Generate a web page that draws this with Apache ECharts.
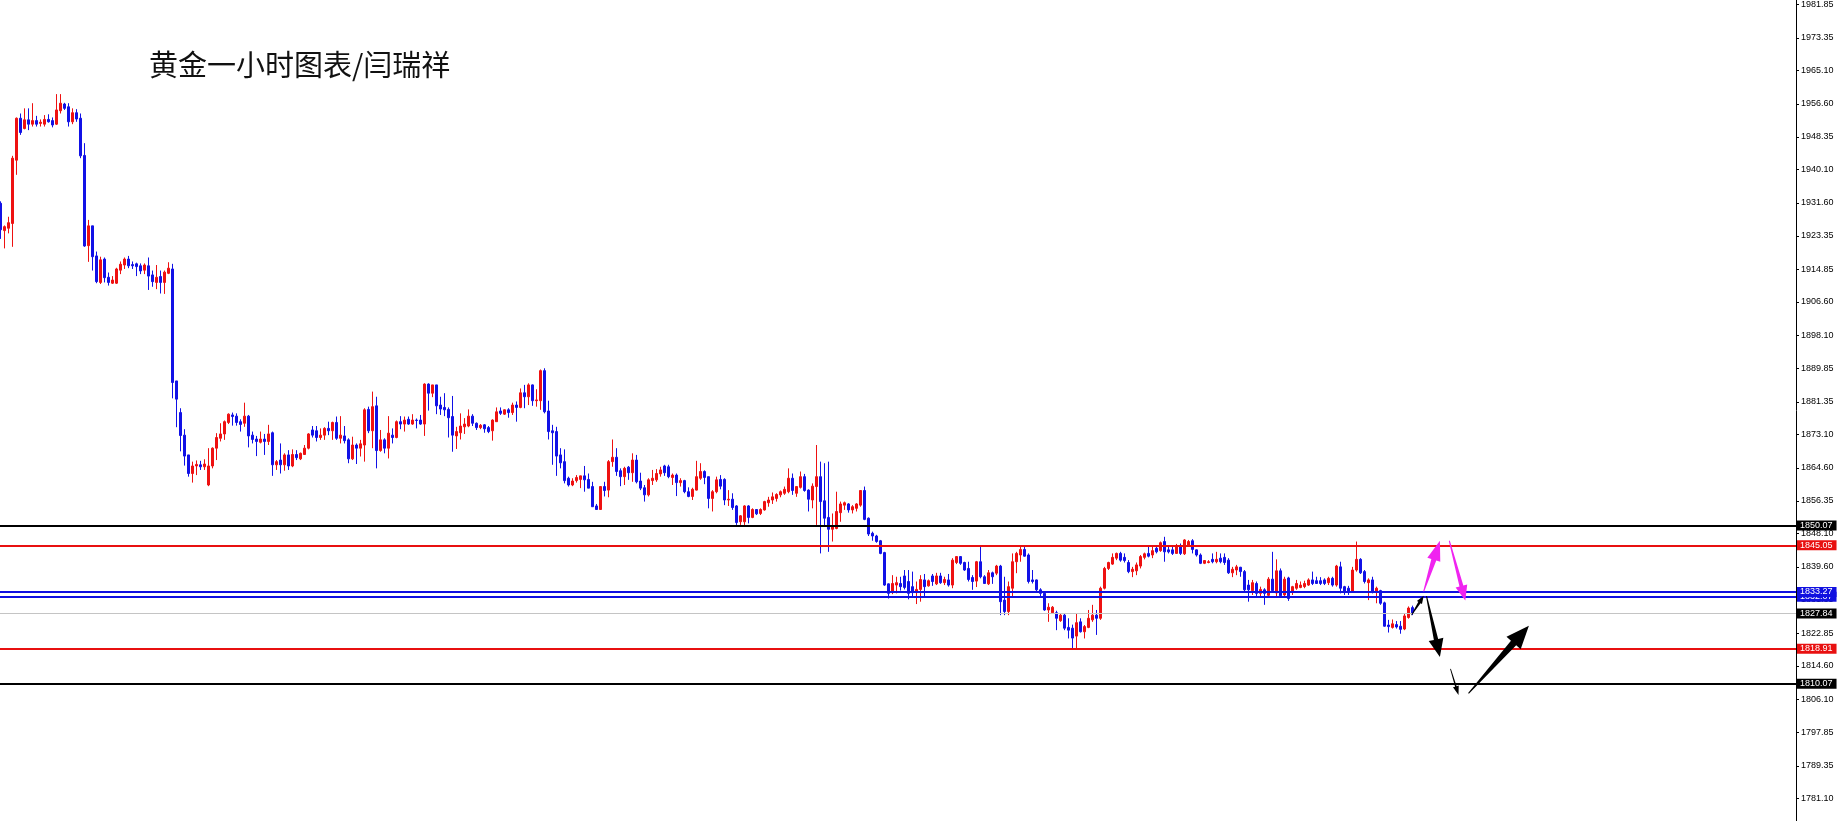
<!DOCTYPE html>
<html><head><meta charset="utf-8">
<script src="https://cdn.jsdelivr.net/npm/echarts@6/dist/echarts.min.js"></script>
<style>html,body{margin:0;padding:0;background:#fff}#c{width:1838px;height:821px}</style>
</head><body><div id="c"></div>
<script>
const titleText = '黄金一小时图表/闫瑞祥';
const slotCount = 449;

const opens = [
1931.5,1924.6,1925.2,1926.4,1942.4,1953.0,1950.4,1952.6,1951.5,1952.4,
1951.7,1951.5,1952.7,1952.4,1951.5,1954.9,1956.6,1955.9,1952.1,1954.4,
1953.0,1943.6,1920.8,1925.8,1918.2,1911.5,1917.4,1912.8,1911.3,1911.3,
1914.6,1915.9,1917.4,1916.0,1916.2,1915.7,1914.6,1915.7,1913.4,1911.5,
1913.0,1911.5,1913.8,1914.9,1886.6,1878.6,1872.9,1867.9,1863.2,1865.1,
1865.4,1864.9,1860.3,1865.1,1869.6,1872.1,1873.2,1876.1,1878.0,1877.7,
1876.3,1875.9,1877.7,1872.9,1871.9,1871.1,1871.9,1871.3,1873.5,1865.4,
1866.6,1865.4,1867.9,1865.1,1868.0,1866.9,1868.0,1869.6,1874.2,1874.0,
1872.3,1872.9,1874.6,1874.0,1876.1,1872.1,1872.7,1871.7,1866.9,1870.4,
1869.6,1870.4,1879.4,1874.0,1880.3,1869.0,1871.7,1869.6,1872.9,1872.3,
1876.3,1875.7,1876.9,1875.7,1876.7,1876.7,1875.7,1885.8,1883.5,1885.6,
1880.5,1879.9,1879.4,1877.6,1872.7,1873.5,1875.0,1875.2,1877.7,1875.9,
1874.8,1875.5,1874.8,1874.0,1876.3,1879.0,1878.2,1879.3,1878.6,1880.5,
1879.9,1883.6,1882.6,1885.6,1881.6,1881.6,1889.2,1879.0,1874.0,1873.8,
1867.9,1866.2,1862.0,1860.3,1861.4,1861.7,1862.6,1861.7,1859.9,1855.0,
1854.1,1859.9,1859.0,1866.2,1867.3,1863.9,1862.4,1864.8,1863.4,1866.6,
1861.3,1859.6,1857.8,1861.4,1861.6,1863.1,1865.1,1864.9,1862.2,1862.8,
1860.9,1861.4,1858.6,1857.4,1859.0,1862.0,1863.7,1862.4,1856.9,1858.6,
1861.7,1861.7,1856.5,1856.7,1855.0,1851.0,1851.0,1855.0,1852.1,1854.1,
1853.1,1854.0,1855.8,1856.5,1856.9,1857.8,1858.2,1858.6,1862.0,1858.2,
1859.7,1862.4,1859.0,1856.5,1859.9,1862.4,1856.3,1852.1,1849.1,1849.3,
1853.3,1855.2,1855.5,1854.0,1854.4,1855.2,1858.9,1851.9,1848.1,1847.4,
1846.2,1843.2,1835.3,1833.1,1835.0,1835.4,1837.3,1835.9,1834.6,1833.1,
1833.9,1836.3,1834.8,1837.3,1835.3,1837.3,1835.6,1836.3,1835.0,1840.7,
1842.2,1840.7,1839.2,1836.9,1836.0,1840.9,1837.1,1835.3,1838.1,1838.0,
1839.8,1831.2,1828.3,1834.2,1840.9,1842.6,1844.0,1842.6,1836.3,1836.3,
1833.8,1832.9,1828.7,1828.0,1828.0,1826.0,1827.4,1824.3,1824.1,1822.1,
1825.7,1823.2,1824.3,1826.2,1827.4,1826.6,1834.2,1839.2,1840.3,1841.8,
1843.0,1842.0,1840.7,1838.4,1838.6,1839.8,1842.0,1843.0,1842.6,1844.3,
1843.7,1846.0,1843.9,1843.9,1843.0,1844.9,1842.9,1845.1,1846.2,1843.9,
1842.6,1840.5,1840.7,1841.5,1840.9,1841.8,1842.0,1841.3,1838.1,1838.8,
1839.5,1838.4,1835.0,1833.6,1835.4,1832.9,1833.8,1832.4,1836.5,1833.0,
1838.6,1832.5,1836.8,1833.3,1834.2,1834.4,1834.6,1835.0,1836.3,1836.1,
1836.1,1836.3,1835.6,1836.7,1835.0,1839.6,1834.6,1834.2,1833.3,1838.8,
1841.5,1838.4,1835.6,1836.3,1833.3,1833.6,1830.5,1824.9,1824.3,1825.0,
1824.6,1823.9,1826.8,1829.3
];
const highs = [
1932.0,1925.9,1928.1,1943.5,1953.2,1954.2,1955.5,1955.5,1956.8,1953.6,
1952.7,1953.8,1954.0,1953.2,1959.1,1959.1,1956.9,1956.8,1955.5,1955.3,
1954.2,1946.7,1927.3,1925.8,1919.3,1918.0,1917.8,1914.0,1913.1,1915.2,
1916.8,1917.8,1918.2,1916.8,1916.5,1916.3,1916.3,1917.8,1914.5,1915.9,
1914.5,1914.5,1916.6,1916.2,1886.6,1879.7,1874.4,1867.9,1866.2,1866.5,
1866.4,1866.8,1869.6,1869.8,1873.4,1875.9,1876.6,1878.4,1878.6,1878.4,
1876.9,1881.1,1878.0,1873.8,1872.7,1873.8,1873.2,1875.5,1873.8,1866.6,
1870.8,1868.3,1869.1,1869.3,1869.1,1868.5,1870.4,1873.4,1875.2,1875.2,
1874.6,1874.9,1876.3,1876.3,1877.6,1877.7,1875.2,1872.1,1872.5,1870.8,
1871.7,1879.7,1880.1,1883.9,1882.6,1874.2,1872.1,1877.7,1874.6,1876.6,
1877.7,1877.6,1877.6,1878.2,1877.1,1878.0,1886.0,1886.0,1885.6,1885.6,
1882.6,1883.5,1879.9,1882.8,1875.0,1878.4,1877.2,1879.4,1878.2,1876.1,
1875.7,1875.7,1875.2,1876.9,1879.9,1879.9,1879.4,1879.7,1881.1,1881.4,
1884.7,1885.6,1886.0,1885.7,1884.5,1889.5,1889.8,1881.6,1875.5,1875.0,
1869.6,1869.3,1862.4,1862.0,1862.8,1862.6,1865.1,1863.2,1861.1,1855.5,
1860.0,1861.1,1866.6,1871.8,1869.6,1864.5,1864.9,1865.1,1868.3,1867.9,
1863.4,1860.3,1862.0,1864.1,1864.3,1864.9,1865.4,1865.4,1863.2,1863.2,
1862.0,1861.6,1859.7,1859.6,1866.4,1865.8,1864.0,1862.4,1859.0,1862.4,
1862.8,1862.0,1859.0,1858.2,1855.2,1852.7,1855.2,1855.2,1854.4,1854.1,
1854.4,1856.3,1857.3,1858.4,1858.2,1858.9,1859.9,1864.5,1863.2,1860.0,
1863.7,1863.1,1859.2,1860.7,1870.4,1866.2,1865.8,1866.2,1853.1,1858.6,
1856.1,1856.1,1855.7,1855.2,1855.7,1859.0,1859.9,1852.1,1848.5,1847.7,
1846.4,1843.4,1835.4,1837.5,1837.1,1837.1,1838.8,1838.8,1838.4,1835.9,
1837.5,1837.8,1836.4,1837.8,1838.1,1838.1,1837.1,1837.8,1841.8,1842.3,
1842.3,1840.9,1840.9,1837.5,1841.1,1844.9,1837.5,1838.8,1838.4,1840.1,
1840.1,1837.1,1835.9,1843.0,1843.4,1844.7,1844.9,1843.0,1838.8,1836.4,
1834.2,1833.3,1830.4,1829.7,1828.5,1827.7,1827.7,1826.6,1825.0,1827.8,
1826.6,1824.9,1828.7,1830.0,1828.7,1834.6,1839.6,1840.9,1843.0,1843.2,
1843.4,1843.0,1841.3,1839.6,1840.7,1842.6,1843.2,1844.7,1844.7,1845.1,
1846.0,1847.2,1844.9,1844.7,1845.4,1845.5,1846.6,1846.4,1846.6,1844.0,
1843.0,1841.3,1841.3,1843.0,1843.4,1843.0,1843.0,1841.8,1839.6,1840.1,
1839.6,1838.8,1836.3,1836.3,1835.9,1834.6,1834.2,1837.0,1843.4,1841.5,
1839.2,1837.1,1837.1,1834.8,1836.3,1835.9,1836.1,1836.7,1838.4,1837.1,
1837.0,1836.7,1837.1,1837.1,1840.1,1840.9,1834.8,1834.8,1839.6,1846.0,
1841.8,1838.8,1836.7,1837.1,1834.6,1833.8,1830.8,1826.2,1826.3,1825.9,
1825.9,1827.9,1829.6,1829.8
];
const lows = [
1922.5,1920.1,1923.9,1920.5,1938.7,1948.8,1950.2,1950.0,1950.9,1950.9,
1950.9,1950.9,1951.9,1950.7,1951.3,1954.2,1955.1,1950.9,1951.5,1952.1,
1942.9,1920.5,1916.7,1914.5,1911.3,1911.1,1911.5,1910.7,1911.1,1911.1,
1913.6,1914.9,1915.1,1914.9,1913.1,1913.6,1913.6,1909.6,1910.4,1909.8,
1908.7,1908.6,1913.6,1882.2,1874.9,1868.8,1865.2,1862.4,1860.9,1862.8,
1864.1,1864.1,1860.0,1864.5,1866.6,1871.3,1871.7,1875.7,1875.3,1875.3,
1873.8,1875.0,1869.8,1870.8,1867.6,1870.8,1867.9,1870.4,1862.6,1864.1,
1863.2,1863.9,1864.1,1864.8,1866.6,1866.6,1867.9,1869.3,1872.3,1871.3,
1871.7,1871.7,1872.9,1871.7,1871.7,1870.8,1870.8,1865.8,1866.6,1865.6,
1867.5,1866.2,1873.4,1869.6,1864.5,1868.7,1868.3,1867.0,1870.8,1872.1,
1874.4,1873.8,1875.5,1875.5,1874.6,1875.5,1872.7,1879.1,1882.5,1878.2,
1878.0,1877.7,1872.3,1868.7,1869.4,1871.8,1873.2,1874.9,1875.2,1874.2,
1874.4,1873.5,1873.4,1871.5,1876.3,1878.0,1878.0,1877.3,1878.0,1876.3,
1879.7,1879.7,1880.5,1880.3,1880.1,1879.3,1878.4,1871.8,1865.4,1862.6,
1864.5,1860.7,1859.9,1860.0,1860.9,1859.5,1858.6,1859.5,1854.8,1854.0,
1854.0,1857.4,1857.2,1864.9,1862.6,1860.0,1860.3,1861.6,1861.1,1860.7,
1859.0,1856.1,1857.4,1860.3,1861.1,1862.4,1862.6,1862.0,1860.3,1857.5,
1859.9,1858.2,1857.2,1856.5,1858.9,1861.6,1860.5,1854.4,1853.6,1858.2,
1859.2,1855.2,1855.0,1854.0,1850.2,1850.2,1850.2,1850.6,1851.9,1852.7,
1852.7,1853.8,1854.8,1855.5,1856.1,1857.2,1857.8,1858.2,1857.8,1857.3,
1859.4,1858.6,1853.6,1854.4,1850.2,1843.0,1849.8,1843.4,1846.0,1849.1,
1851.0,1854.0,1853.3,1853.1,1853.6,1854.8,1851.4,1847.4,1846.2,1845.7,
1842.8,1834.8,1831.6,1832.7,1832.9,1833.6,1833.9,1831.4,1832.1,1830.2,
1830.8,1832.2,1834.6,1834.8,1835.0,1835.3,1835.0,1834.6,1834.2,1840.3,
1840.1,1838.6,1835.9,1833.8,1834.5,1836.7,1835.3,1835.0,1835.3,1837.5,
1827.4,1827.4,1827.4,1831.9,1838.0,1840.9,1842.2,1835.4,1835.4,1833.3,
1832.1,1828.5,1825.7,1827.9,1823.6,1825.7,1823.6,1821.5,1819.0,1819.0,
1823.0,1821.5,1824.1,1825.7,1822.4,1826.2,1833.9,1838.8,1840.1,1841.3,
1840.9,1840.7,1838.0,1837.0,1837.5,1839.2,1841.5,1842.0,1841.8,1843.0,
1843.4,1840.9,1843.0,1842.6,1842.9,1842.6,1842.6,1844.7,1843.0,1842.2,
1840.3,1840.3,1840.5,1840.5,1840.5,1840.5,1840.1,1837.8,1837.0,1837.5,
1837.1,1833.3,1830.8,1832.5,1832.1,1832.1,1830.0,1832.2,1833.0,1832.2,
1832.0,1832.2,1831.0,1832.5,1833.8,1834.2,1834.2,1834.8,1835.0,1835.3,
1835.0,1835.0,1835.0,1834.6,1834.6,1832.9,1832.5,1832.5,1833.1,1838.4,
1837.8,1835.4,1831.2,1832.9,1830.4,1830.0,1824.5,1823.0,1824.0,1824.0,
1822.7,1823.6,1826.5,1827.4
];
const closes = [
1924.8,1925.6,1926.6,1942.9,1953.0,1949.4,1952.6,1951.5,1952.4,1951.5,
1952.0,1952.7,1952.1,1951.3,1955.1,1956.8,1955.5,1952.1,1954.4,1952.8,
1943.5,1920.7,1925.8,1918.0,1911.7,1917.2,1912.7,1911.5,1912.1,1914.9,
1916.1,1917.4,1915.7,1915.7,1915.5,1914.4,1915.9,1913.1,1911.7,1912.8,
1911.5,1914.1,1915.1,1886.2,1882.0,1872.8,1867.6,1863.2,1865.1,1865.5,
1864.9,1865.6,1865.1,1869.6,1872.3,1873.2,1876.3,1878.2,1877.6,1876.1,
1875.6,1877.7,1872.7,1871.8,1871.3,1871.9,1871.3,1873.2,1865.4,1866.2,
1865.4,1867.9,1865.1,1868.0,1867.2,1868.3,1869.6,1873.2,1872.9,1872.3,
1872.9,1874.6,1874.0,1876.1,1872.1,1872.9,1871.5,1866.9,1870.4,1869.6,
1870.7,1879.3,1874.0,1880.1,1869.0,1871.7,1869.6,1873.4,1872.3,1876.3,
1875.7,1876.7,1875.7,1876.7,1876.6,1875.7,1885.8,1883.5,1885.6,1880.3,
1879.5,1879.3,1877.3,1872.9,1873.8,1875.2,1875.7,1877.7,1875.9,1874.8,
1875.4,1874.5,1873.8,1876.7,1878.8,1878.4,1879.3,1878.6,1880.5,1879.9,
1883.6,1882.6,1885.6,1881.6,1881.8,1889.2,1878.8,1873.8,1873.5,1867.6,
1865.9,1861.4,1860.3,1861.3,1862.2,1862.6,1861.6,1859.5,1854.8,1854.1,
1859.9,1858.9,1866.2,1867.3,1863.7,1862.4,1864.5,1863.4,1866.6,1861.1,
1859.5,1857.8,1861.6,1862.0,1863.2,1864.1,1863.4,1862.4,1862.8,1860.9,
1861.4,1858.6,1857.4,1859.2,1862.4,1863.7,1862.2,1856.9,1858.6,1861.6,
1860.0,1856.5,1856.7,1854.6,1850.8,1852.5,1855.0,1852.1,1854.1,1853.0,
1854.1,1856.1,1856.5,1857.3,1857.9,1858.6,1859.2,1862.0,1858.9,1859.9,
1862.4,1858.9,1856.7,1860.0,1862.4,1856.1,1851.9,1849.1,1849.8,1853.6,
1855.5,1855.8,1854.0,1854.8,1855.5,1858.9,1851.6,1847.9,1847.4,1846.0,
1843.0,1835.0,1832.9,1835.4,1835.6,1834.6,1834.4,1832.9,1833.1,1833.9,
1836.4,1834.6,1836.1,1835.9,1837.3,1835.6,1836.4,1835.0,1841.3,1842.2,
1840.5,1838.8,1836.4,1835.9,1840.9,1837.1,1835.4,1838.1,1837.1,1839.8,
1830.8,1828.3,1834.6,1840.9,1843.0,1844.0,1842.3,1835.9,1835.9,1833.8,
1832.9,1828.7,1829.4,1829.4,1826.6,1827.4,1824.1,1823.6,1821.6,1825.5,
1823.2,1824.5,1826.6,1827.4,1826.6,1834.2,1839.2,1840.7,1842.0,1843.0,
1841.3,1841.2,1838.4,1839.0,1840.1,1842.2,1842.9,1842.3,1843.7,1843.4,
1845.7,1843.4,1843.4,1843.0,1844.9,1843.0,1846.4,1846.0,1844.0,1842.6,
1840.5,1841.2,1840.9,1840.9,1841.5,1840.9,1840.7,1838.1,1839.0,1839.6,
1838.4,1833.8,1833.8,1835.6,1832.9,1833.9,1832.9,1836.5,1833.6,1838.6,
1832.3,1836.5,1831.6,1834.6,1835.4,1835.0,1835.4,1836.3,1835.4,1835.4,
1835.4,1835.4,1836.7,1835.0,1839.8,1834.2,1833.3,1833.3,1838.8,1841.5,
1838.1,1835.9,1836.3,1833.3,1834.2,1830.4,1824.6,1824.5,1825.2,1824.4,
1823.8,1827.2,1829.2,1827.84
];

const tickValues = [1981.85,1973.35,1965.10,1956.60,1948.35,1940.10,1931.60,1923.35,1914.85,1906.60,1898.10,1889.85,1881.35,1873.10,1864.60,1856.35,1848.10,1839.60,1831.35,1822.85,1814.60,1806.10,1797.85,1789.35,1781.10];

// horizontal price levels (drawn in this order)
const levelValues = [1827.84, 1832.07, 1833.27, 1845.05, 1818.91, 1850.07, 1810.07];

// annotation arrows: from (bar index, price) to (bar index, price)
const arrowFromIdx   = [352.75, 355.8, 362.2, 356.5, 362.5, 367.0];
const arrowFromPrice = [1827.4, 1833.4, 1846.2, 1832.2, 1813.8, 1807.6];
const arrowToIdx     = [355.8, 359.85, 366.2, 359.85, 364.5, 382.1];
const arrowToPrice   = [1832.3, 1846.2, 1831.1, 1816.8, 1807.2, 1824.7];

// ---- styles ----
const UP = '#ee1111', DOWN = '#1111e6';
const Y_MIN = 1775.36, Y_MAX = 1982.89;
const levelStyles = [
  {color:'#c4c4c4', width:1, bg:'#000000'},
  {color:'#1010e0', width:2, bg:'#1010e0'},
  {color:'#1010e0', width:2, bg:'#1010e0'},
  {color:'#e81010', width:2, bg:'#e81010'},
  {color:'#e81010', width:2, bg:'#e81010'},
  {color:'#000000', width:2, bg:'#000000'},
  {color:'#000000', width:2, bg:'#000000'}
];
const arrowStyles = [
  {color:'#000', head:8,  wing:3,   neck:1.3, tail:0.4},
  {color:'#f024f0', head:20, wing:6.8, neck:2.6, tail:0.5},
  {color:'#f024f0', head:15, wing:6,   neck:2.0, tail:0.5},
  {color:'#000', head:18, wing:7.5, neck:2.2, tail:0.5},
  {color:'#000', head:9,  wing:3,   neck:0.8, tail:0.4},
  {color:'#000', head:23, wing:9.5, neck:3.5, tail:0.5}
];

const categories = [];
for (let i = 0; i < slotCount; i++) categories.push(String(i));
const candleData = opens.map((o, i) => [o, closes[i], lows[i], highs[i]]);
const arrowData = arrowFromIdx.map((x, i) => [x, arrowFromPrice[i], arrowToIdx[i], arrowToPrice[i]]);
const tickData = tickValues.map(v => [1, v]);

const chart = echarts.init(document.getElementById('c'), null, {renderer:'canvas'});
chart.setOption({
  animation: false,
  backgroundColor: '#ffffff',
  title: {
    text: titleText, left: 149, top: 50, padding: 0,
    textStyle: {fontFamily:'Noto Sans CJK SC', fontSize:29, fontWeight:'normal', color:'#111'}
  },
  grid: [
    {left: -1.5, right: 43.5, top: 0, bottom: 0, containLabel: false, outerBoundsMode: 'none'},
    {left: 0, right: 42, top: 0, bottom: 0, containLabel: false, outerBoundsMode: 'none'}
  ],
  xAxis: [
    {type:'category', gridIndex:0, data: categories, boundaryGap: true, show: false,
      axisLine:{show:false, onZero:false}},
    {type:'value', gridIndex:0, min: -0.5, max: slotCount - 0.5, show: false,
      axisLine:{show:false, onZero:false}},
    {type:'value', gridIndex:1, min: 0, max: 1, show: false,
      axisLine:{show:false, onZero:false}}
  ],
  yAxis: [
    {type:'value', gridIndex:0, min: Y_MIN, max: Y_MAX, show: false,
      axisLine:{show:false, onZero:false}, splitLine:{show:false}},
    {
      type: 'value', gridIndex:1, position: 'right', min: Y_MIN, max: Y_MAX,
      splitLine: {show:false},
      axisLine: {show:true, onZero:false, lineStyle:{color:'#000', width:1}},
      axisTick: {show:false},
      axisLabel: {show:true, margin:5, customValues: tickValues, color:'#000',
        fontFamily:'Liberation Sans', fontSize:9, formatter: v => Number(v).toFixed(2)}
    }
  ],
  series: [
    {
      type: 'candlestick', xAxisIndex: 0, yAxisIndex: 0, z: 2,
      data: candleData, barWidth: 2,
      itemStyle: {color: UP, color0: DOWN, borderColor: UP, borderColor0: DOWN, borderWidth: 1}
    },
    {
      type: 'line', xAxisIndex: 2, yAxisIndex: 1, z: 4, data: [], silent: true,
      markLine: {
        silent: true, symbol: ['none','none'], animation: false,
        data: levelValues.map((v, i) => ({
          yAxis: v,
          lineStyle: {color: levelStyles[i].color, width: levelStyles[i].width, type: 'solid'},
          label: {show:true, position:'end', distance:1, formatter: () => v.toFixed(2),
            color:'#fff', backgroundColor: levelStyles[i].bg, fontFamily:'Liberation Sans',
            fontSize: 9, lineHeight: 10, padding: [0, 4, 0, 3]}
        }))
      }
    },
    {
      type: 'custom', xAxisIndex: 2, yAxisIndex: 1, z: 3, silent: true, clip: false,
      encode: {x: 0, y: 1},
      data: tickData,
      renderItem: function (params, api) {
        const p = api.coord([api.value(0), api.value(1)]);
        const y = Math.round(p[1]) + 0.5;
        return {type:'line', shape:{x1: p[0], y1: y, x2: p[0] + 3, y2: y},
          style:{stroke:'#000', lineWidth:1}};
      }
    },
    {
      type: 'custom', xAxisIndex: 1, yAxisIndex: 0, z: 5, silent: true,
      encode: {x: [0, 2], y: [1, 3]},
      data: arrowData,
      renderItem: function (params, api) {
        const a = api.coord([api.value(0), api.value(1)]);
        const b = api.coord([api.value(2), api.value(3)]);
        const s = arrowStyles[params.dataIndex];
        const dx = b[0]-a[0], dy = b[1]-a[1], L = Math.hypot(dx, dy);
        const ux = dx/L, uy = dy/L, nx = -uy, ny = ux;
        const bx = b[0]-ux*s.head, by = b[1]-uy*s.head;
        const pts = [
          [a[0]+nx*s.tail, a[1]+ny*s.tail],
          [bx+nx*s.neck, by+ny*s.neck],
          [bx+nx*s.wing, by+ny*s.wing],
          [b[0], b[1]],
          [bx-nx*s.wing, by-ny*s.wing],
          [bx-nx*s.neck, by-ny*s.neck],
          [a[0]-nx*s.tail, a[1]-ny*s.tail]
        ];
        return {type:'polygon', shape:{points: pts}, style:{fill: s.color}};
      }
    }
  ]
});
</script>
</body></html>
